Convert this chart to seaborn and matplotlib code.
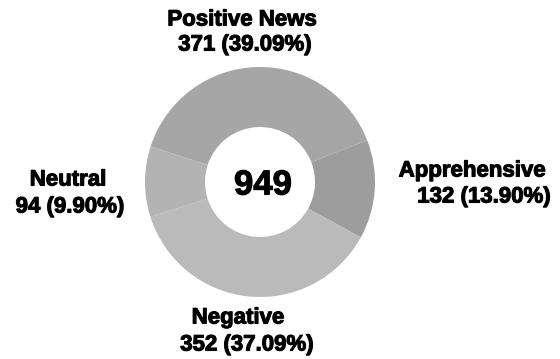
import matplotlib
matplotlib.use("Agg")
import matplotlib.pyplot as plt
import matplotlib.patheffects as pe
import seaborn as sns

# Sentiment breakdown of the news articles
categories = ["Positive News", "Apprehensive", "Negative", "Neutral"]
counts = [371, 132, 352, 94]
percent_labels = ["39.09%", "13.90%", "37.09%", "9.90%"]
total = 949

sns.set_theme(style="white")
plt.rcParams["font.family"] = ["Liberation Sans", "DejaVu Sans"]

colors = ["#a6a6a6", "#9d9d9d", "#bababa", "#b3b3b3"]

W, H = 560, 359
fig = plt.figure(figsize=(W / 100, H / 100), dpi=100)
ax = fig.add_axes([0, 0, 1, 1])

cx, cy = 260, H - 182
outer = 115
ring = 60

ax.pie(
    counts,
    colors=colors,
    startangle=162,
    counterclock=False,
    center=(cx, cy),
    radius=outer,
    wedgeprops=dict(width=ring, linewidth=0, edgecolor="none"),
    frame=True,
)
ax.set_xlim(0, W)
ax.set_ylim(0, H)
ax.set_aspect("equal")
ax.axis("off")

heavy = [pe.withStroke(linewidth=0.8, foreground="black")]

# centre total
ax.text(cx + 3, cy - 3, f"{total}", ha="center", va="center",
        fontsize=25, fontweight="bold", color="black", path_effects=heavy)

# label positions (name line, value line) in pixel coordinates from the top
label_pos = {
    "Positive News": ((242, 20), (245, 45)),
    "Apprehensive": ((472, 171), (484, 197)),
    "Negative": ((238, 318), (247, 345)),
    "Neutral": ((68, 180), (70, 207)),
}

for name, n, pct in zip(categories, counts, percent_labels):
    (x1, y1), (x2, y2) = label_pos[name]
    ax.text(x1, H - y1, name, ha="center", va="center",
            fontsize=16, fontweight="bold", color="black", path_effects=heavy)
    ax.text(x2, H - y2, f"{n} ({pct})", ha="center", va="center",
            fontsize=16, fontweight="bold", color="black", path_effects=heavy)

fig.savefig("out.png", dpi=100, facecolor="white")
